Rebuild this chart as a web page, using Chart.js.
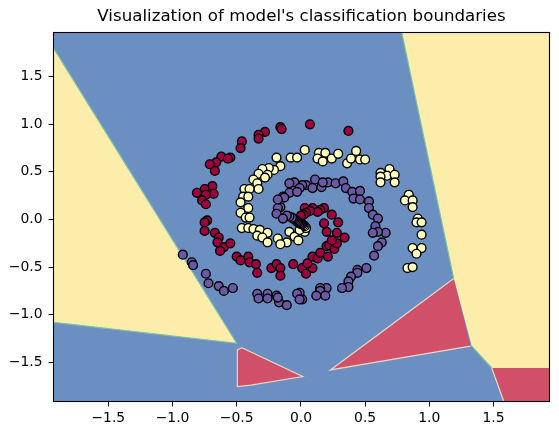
<!DOCTYPE html>
<html>
<head>
<meta charset="utf-8">
<title>Classification boundaries</title>
<script src="https://cdn.jsdelivr.net/npm/chart.js@4"></script>
<style>
  html, body { margin: 0; padding: 0; background: #fff; }
  canvas { display: block; }
</style>
</head>
<body>
<canvas id="chart" width="559" height="435"></canvas>
<script>
const titleText = "Visualization of model's classification boundaries";
const xTicks = [-1.5, -1.0, -0.5, 0.0, 0.5, 1.0, 1.5];
const yTicks = [-1.5, -1.0, -0.5, 0.0, 0.5, 1.0, 1.5];
const xLimits = [-1.927, 1.936];
const yLimits = [-1.912, 1.964];

// decision regions, [x, y] in data units
const blueRegion = [[-1.927, -1.912], [1.936, -1.912], [1.936, 1.964], [-1.927, 1.964]];
const yellowLeft = [[-1.927, 1.80], [-0.50, -1.30], [-1.927, -1.08]];
const yellowRight = [[0.785, 1.964], [1.936, 1.964], [1.936, -1.56], [1.486, -1.56], [1.33, -1.33], [1.19, -0.62]];
const redSmall = [[-0.495, -1.37], [-0.46, -1.347], [0.014, -1.65], [-0.39, -1.74], [-0.495, -1.756]];
const redLarge = [[0.23, -1.58], [1.19, -0.62], [1.32, -1.33]];
const redCorner = [[1.486, -1.56], [1.936, -1.56], [1.936, -1.912], [1.58, -1.912]];

// boundary lines where the regions meet the blue one
const yellowLeftEdge = [[-1.927, 1.80], [-0.50, -1.30], [-1.927, -1.08]];
const yellowTopEdge = [[0.785, 1.964], [1.19, -0.62]];
const yellowLowEdge = [[1.33, -1.33], [1.486, -1.56]];
const redSmallEdge = [[-0.46, -1.347], [0.014, -1.65], [-0.39, -1.74], [-0.495, -1.756], [-0.495, -1.37], [-0.46, -1.347]];
const redLargeEdge = [[1.19, -0.62], [0.23, -1.58], [1.32, -1.33]];
const redCornerEdge = [[1.486, -1.56], [1.58, -1.912]];

// training points
const redPoints = [[-0.16,0.97],[-0.15,0.95],[-0.28,0.92],[-0.33,0.89],[-0.33,0.85],[-0.46,0.82],[-0.47,0.75],[-0.62,0.66],[-0.55,0.65],[-0.57,0.64],[-0.66,0.60],[-0.71,0.58],[-0.67,0.51],[-0.69,0.35],[-0.75,0.32],[-0.81,0.28],[-0.68,0.27],[-0.74,0.26],[-0.77,0.20],[-0.74,0.16],[0.07,1.0],[0.37,0.93],[-0.73,-0.01],[-0.75,-0.03],[-0.75,-0.12],[-0.67,-0.14],[-0.64,-0.19],[-0.65,-0.24],[-0.60,-0.29],[-0.55,-0.25],[-0.63,-0.33],[-0.50,-0.39],[-0.47,-0.43],[-0.41,-0.39],[-0.40,-0.45],[-0.35,-0.47],[-0.34,-0.56],[-0.23,-0.51],[-0.19,-0.47],[-0.16,-0.51],[-0.16,-0.59],[-0.06,-0.47],[0.01,-0.51],[0.04,-0.57],[0.09,-0.51],[0.05,-0.46],[0.09,-0.39],[0.13,-0.41],[0.15,-0.35],[0.21,-0.39],[0.20,-0.28],[0.22,-0.27],[0.26,-0.31],[0.28,-0.25],[0.24,-0.22],[0.34,-0.19],[0.28,-0.14],[0.20,-0.13],[0.18,-0.04],[0.29,-0.03],[0.24,0.05],[0.18,0.12],[0.15,0.10],[0.09,0.12],[0.03,0.12],[0.13,0.08],[0.07,0.09],[0.04,0.07],[0.02,0.05],[0.0,0.04]];
const yellowPoints = [[-0.19,0.65],[-0.08,0.65],[-0.03,0.65],[0.03,0.73],[-0.16,0.56],[-0.21,0.52],[-0.25,0.54],[-0.30,0.53],[-0.26,0.47],[-0.33,0.48],[-0.28,0.44],[-0.37,0.42],[-0.34,0.38],[-0.33,0.32],[-0.44,0.32],[-0.40,0.32],[-0.45,0.24],[-0.41,0.24],[-0.47,0.18],[-0.41,0.12],[0.14,0.70],[0.13,0.64],[0.19,0.70],[0.17,0.61],[0.24,0.64],[0.29,0.69],[0.36,0.59],[0.39,0.64],[0.43,0.72],[0.46,0.63],[0.50,0.63],[0.62,0.49],[0.69,0.53],[0.67,0.46],[0.62,0.45],[0.73,0.47],[0.62,0.39],[0.73,0.39],[0.84,0.26],[0.81,0.20],[0.87,0.20],[0.87,0.13],[0.91,0.01],[0.90,-0.03],[0.94,-0.03],[0.94,-0.16],[0.87,-0.30],[0.94,-0.30],[0.90,-0.36],[0.83,-0.51],[0.87,-0.50],[-0.47,0.07],[-0.43,0.02],[-0.40,0.02],[-0.46,-0.09],[-0.41,-0.09],[-0.37,-0.10],[-0.32,-0.11],[-0.26,-0.14],[-0.34,-0.17],[-0.30,-0.19],[-0.26,-0.24],[-0.18,-0.20],[-0.11,-0.24],[-0.16,-0.26],[-0.09,-0.13],[-0.05,-0.18],[-0.02,-0.22],[0.03,-0.13],[-0.01,-0.11],[0.04,-0.09],[0.03,-0.07],[0.02,-0.06],[0.01,-0.05],[0.0,-0.04]];
const purplePoints = [[0.11,0.42],[0.04,0.36],[0.01,0.36],[0.09,0.33],[0.16,0.34],[0.21,0.39],[0.17,0.39],[0.27,0.38],[0.33,0.40],[0.35,0.33],[0.40,0.29],[0.46,0.30],[0.41,0.22],[0.46,0.21],[0.53,0.19],[0.53,0.12],[0.56,0.05],[0.60,0.01],[0.58,-0.07],[0.66,-0.14],[0.60,-0.13],[0.56,-0.14],[0.63,-0.24],[0.60,-0.28],[0.57,-0.38],[0.51,-0.51],[0.44,-0.53],[0.44,-0.56],[0.39,-0.60],[0.37,-0.65],[0.37,-0.71],[0.32,-0.72],[0.20,-0.72],[0.15,-0.72],[0.15,-0.75],[0.12,-0.80],[0.19,-0.80],[0.01,-0.84],[-0.01,-0.77],[-0.05,0.39],[-0.09,0.38],[-0.09,0.28],[-0.14,0.24],[-0.16,0.13],[-0.01,0.33],[-0.03,0.29],[-0.18,0.12],[-0.19,0.06],[-0.92,-0.37],[-0.85,-0.45],[-0.84,-0.48],[-0.74,-0.57],[-0.72,-0.67],[-0.64,-0.70],[-0.60,-0.75],[-0.53,-0.72],[-0.34,-0.78],[-0.33,-0.83],[-0.26,-0.78],[-0.26,-0.83],[-0.19,-0.80],[-0.17,-0.87],[-0.18,-0.82],[-0.11,-0.90],[-0.03,-0.78],[-0.01,-0.84],[-0.13,0.23],[-0.18,0.21],[0.01,-0.05],[0.0,-0.05],[-0.01,-0.04],[-0.02,-0.03],[-0.03,-0.02],[-0.04,-0.01],[-0.05,0.0],[-0.06,0.01],[-0.07,0.02],[-0.09,0.03],[-0.11,0.04],[-0.14,0.01]];

function toXY(pairs) {
  return pairs.map(([x, y]) => ({ x, y }));
}

function regionDataset(pairs, color, order) {
  return {
    data: toXY(pairs.concat([pairs[0]])),
    showLine: true,
    fill: "shape",
    backgroundColor: color,
    borderWidth: 0,
    pointRadius: 0,
    tension: 0,
    order,
  };
}

function edgeDataset(pairs, color, order) {
  return {
    data: toXY(pairs),
    showLine: true,
    fill: false,
    borderColor: color,
    borderWidth: 1.2,
    pointRadius: 0,
    tension: 0,
    order,
  };
}

function pointDataset(pairs, color, order) {
  return {
    data: toXY(pairs),
    backgroundColor: color,
    borderColor: "#000",
    borderWidth: 1.4,
    pointRadius: 4.4,
    order,
  };
}

function tickLabel(value) {
  return value.toFixed(1).replace("-", "\u2212");
}

const frame = {
  id: "frame",
  afterDraw(chart) {
    const { ctx, chartArea } = chart;
    ctx.save();
    ctx.strokeStyle = "#000";
    ctx.lineWidth = 1.1;
    ctx.strokeRect(chartArea.left, chartArea.top, chartArea.width, chartArea.height);
    ctx.restore();
  },
};

const tickFont = { family: "DejaVu Sans", size: 13.9 };

new Chart(document.getElementById("chart").getContext("2d"), {
  type: "scatter",
  data: {
    datasets: [
      pointDataset(purplePoints, "#6a5aa6", 0),
      pointDataset(yellowPoints, "#ffffbf", 1),
      pointDataset(redPoints, "#9e0142", 2),
      edgeDataset(redCornerEdge, "#ecd6c4", 3),
      edgeDataset(redLargeEdge, "#ecd6c4", 3),
      edgeDataset(redSmallEdge, "#ecd6c4", 3),
      regionDataset(redCorner, "#cf5068", 4),
      regionDataset(redLarge, "#cf5068", 4),
      regionDataset(redSmall, "#cf5068", 4),
      edgeDataset(yellowLeftEdge, "#7cc0a8", 5),
      edgeDataset(yellowTopEdge, "#7cc0a8", 5),
      edgeDataset(yellowLowEdge, "#7cc0a8", 5),
      regionDataset(yellowRight, "#fcedab", 6),
      regionDataset(yellowLeft, "#fcedab", 6),
      regionDataset(blueRegion, "#6a8fc0", 7),
    ],
  },
  options: {
    responsive: false,
    devicePixelRatio: 1,
    animation: false,
    layout: { padding: { top: 0, right: 9.5, bottom: 0, left: 0 } },
    plugins: {
      legend: { display: false },
      tooltip: { enabled: false },
      title: {
        display: true,
        fullSize: false,
        text: titleText,
        color: "#000",
        font: { family: "DejaVu Sans", size: 16.67, weight: "normal" },
        padding: { top: 7, bottom: 5.5 },
      },
    },
    scales: {
      x: {
        type: "linear",
        min: xLimits[0],
        max: xLimits[1],
        afterBuildTicks(scale) { scale.ticks = xTicks.map((value) => ({ value })); },
        afterFit(scale) { scale.height = 33.5; },
        grid: { drawOnChartArea: false, color: "#000", tickLength: 5 },
        border: { color: "#000" },
        ticks: { color: "#000", font: tickFont, maxRotation: 0, autoSkip: false, callback: tickLabel, padding: 4 },
      },
      y: {
        type: "linear",
        min: yLimits[0],
        max: yLimits[1],
        afterBuildTicks(scale) { scale.ticks = yTicks.map((value) => ({ value })); },
        afterFit(scale) { scale.width = 53.5; },
        grid: { drawOnChartArea: false, color: "#000", tickLength: 5 },
        border: { color: "#000" },
        ticks: { color: "#000", font: tickFont, autoSkip: false, callback: tickLabel, padding: 6 },
      },
    },
  },
  plugins: [frame],
});
</script>
</body>
</html>
